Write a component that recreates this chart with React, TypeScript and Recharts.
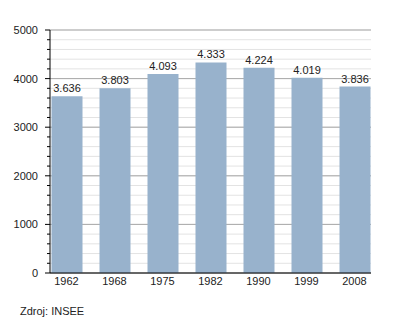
import { BarChart, Bar, XAxis, YAxis, CartesianGrid, LabelList } from 'recharts';

const years = ['1962', '1968', '1975', '1982', '1990', '1999', '2008'];
const population = [3636, 3803, 4093, 4333, 4224, 4019, 3836];
const yTicks = Array.from({ length: 26 }, (_, i) => i * 200);
const majorTicks = [0, 1000, 2000, 3000, 4000, 5000];

const data = years.map((year, i) => ({ year, value: population[i] }));

const font = '"Liberation Sans", Arial, Helvetica, sans-serif';

const YTick = (props: any) => {
  const { x, y, payload } = props;
  const major = payload.value % 1000 === 0;
  return (
    <g>
      <line x1={x - (major ? 5 : 3)} x2={x} y1={y} y2={y} stroke="#000" strokeWidth={1} />
      {major && (
        <text x={x - 12} y={y} dy={4} textAnchor="end" fontSize={11} fill="#222" fontFamily={font}>
          {payload.value}
        </text>
      )}
    </g>
  );
};

export default function App() {
  return (
    <div style={{ position: 'relative', width: 392, height: 315, fontFamily: font }}>
      <BarChart
        width={392}
        height={300}
        data={data}
        margin={{ top: 22, right: 29, left: 0, bottom: 5 }}
        barSize={31}
      >
        <CartesianGrid vertical={false} stroke="#e3e3e3" />
        <CartesianGrid vertical={false} stroke="#a9a9a9" horizontalValues={majorTicks} />
        <XAxis
          dataKey="year"
          height={30}
          padding={{ left: -7.5, right: -7.5 }}
          axisLine={{ stroke: '#000' }}
          tickLine={false}
          tickSize={0}
          tick={{ fontSize: 11, fill: '#222', fontFamily: font }}
          tickMargin={4}
        />
        <YAxis
          width={42}
          domain={[0, 5000]}
          ticks={yTicks}
          interval={0}
          tickSize={0}
          tickMargin={0}
          axisLine={{ stroke: '#000' }}
          tickLine={false}
          tick={<YTick />}
        />
        <Bar dataKey="value" fill="#98b2cc" isAnimationActive={false}>
          <LabelList
            dataKey="value"
            position="top"
            offset={4}
            formatter={(v: any) => (Number(v) / 1000).toFixed(3)}
            style={{ fontSize: 11, fill: '#222', fontFamily: font }}
          />
        </Bar>
      </BarChart>
      <div style={{ position: 'absolute', left: 12, top: 297, fontSize: 11, color: '#222' }}>
        Zdroj: INSEE
      </div>
    </div>
  );
}
